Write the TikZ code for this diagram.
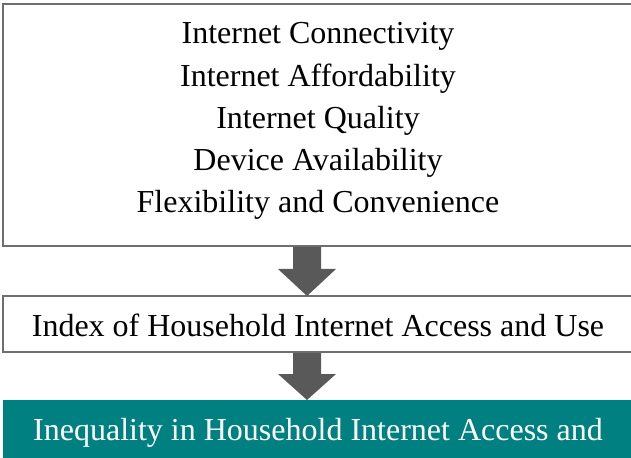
\documentclass[tikz,border=0pt]{standalone}
\usepackage{fontspec}
\setmainfont{Liberation Serif}
\usetikzlibrary{calc}
\definecolor{boxline}{RGB}{110,110,110}
\definecolor{arrowgray}{RGB}{89,89,89}
\definecolor{tealfill}{RGB}{0,128,128}
\tikzset{
  framebox/.style={draw=boxline, line width=1.6bp, fill=white},
  txt/.style={anchor=base, inner sep=0pt, font=\fontsize{32bp}{38bp}\selectfont},
  blockarrow/.style={fill=arrowgray, draw=none},
}
\begin{document}
\begin{tikzpicture}[x=1bp,y=-1bp]
\useasboundingbox (0,0) rectangle (631,458);

% boxes (they run past the right edge of the page)
\draw[framebox] (3,4) rectangle (633,246);
\coordinate (topS) at (307,246);
\draw[framebox] (3,296) rectangle (633,352);
\coordinate (midN) at (307,296);
\coordinate (midS) at (307,352);
\fill[tealfill] (3,400) rectangle (640,470);
\coordinate (botN) at (307,400);

% factor list
\node[txt] (f1) at (318,44) {Internet Connectivity};
\node[txt] (f2) at (318,86.25) {Internet Affordability};
\node[txt] (f3) at (318,128.5) {Internet Quality};
\node[txt] (f4) at (318,170.75) {Device Availability};
\node[txt] (f5) at (318,213) {Flexibility and Convenience};

\node[txt] (idx) at (318,336) {Index of Household Internet Access and Use};
\node[txt, text=white] (ineq) at (318,440) {Inequality in Household Internet Access and};

% block arrows
\fill[blockarrow] ($(topS)+(-14,1)$) -- ($(topS)+(14,1)$) -- ($(topS)+(14,23)$)
  -- ($(topS)+(29,23)$) -- (midN) -- ($(topS)+(-29,23)$) -- ($(topS)+(-14,23)$) -- cycle;
\fill[blockarrow] ($(midS)+(-14,1)$) -- ($(midS)+(14,1)$) -- ($(midS)+(14,22)$)
  -- ($(midS)+(29,22)$) -- (botN) -- ($(midS)+(-29,22)$) -- ($(midS)+(-14,22)$) -- cycle;
\end{tikzpicture}
\end{document}
